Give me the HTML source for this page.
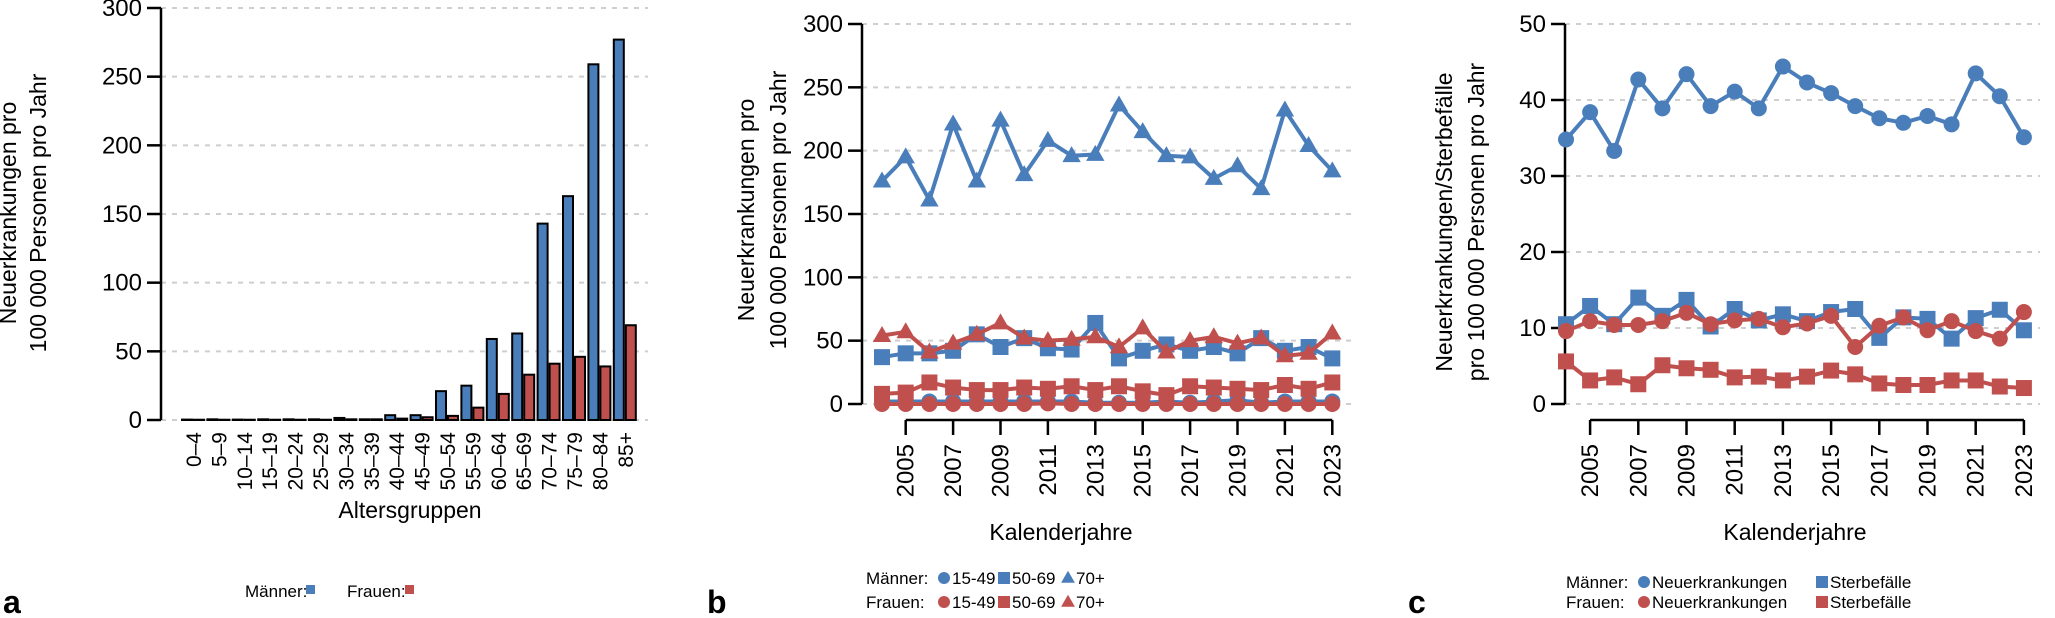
<!DOCTYPE html>
<html><head><meta charset="utf-8"><style>
body{margin:0;background:#fff}
svg{display:block;font-family:"Liberation Sans",sans-serif}
</style></head><body>
<svg id="s" width="2055" height="618" viewBox="0 0 2055 618"></svg>
<script>
const ageGroups=["0–4","5–9","10–14","15–19","20–24","25–29","30–34","35–39","40–44","45–49","50–54","55–59","60–64","65–69","70–74","75–79","80–84","85+"];
const menAge=[0.3,0.5,0.3,0.5,0.5,0.5,1.5,0.5,3.5,3.5,21,25,59,63,143,163,259,277];
const womenAge=[0.2,0.2,0.2,0.2,0.2,0.2,0.5,0.5,1,2,3,9,19,33,41,46,39,69];
const ticksA=[0,50,100,150,200,250,300];
const years=[2004,2005,2006,2007,2008,2009,2010,2011,2012,2013,2014,2015,2016,2017,2018,2019,2020,2021,2022,2023];
const yearTicks=[2005,2007,2009,2011,2013,2015,2017,2019,2021,2023];
const m70=[176,195,161,221,176,224,181,208,196,197,236,215,196,195,178,188,170,232,204,184];
const m5069=[37,40,40,42,55,45,52,44,43,64,36,42,47,42,45,40,52,42,45,36];
const m1549=[2,2,2,2,2,2,2,2,2,1,1,1,2,1,2,3,1,2,2,2];
const w70=[54,57,41,48,55,64,52,50,51,53,45,60,41,50,53,48,52,38,40,56];
const w5069=[8,9,17,13,11,11,13,12,14,11,14,10,7,14,13,12,11,15,12,17];
const w1549=[0,0,0,0,0,0,0,0.5,0,0,0,0,0,0,0,0,0,0,0,0];
const ticksB=[0,50,100,150,200,250,300];
const mNeu=[34.8,38.4,33.3,42.7,38.9,43.4,39.2,41.1,38.9,44.4,42.3,40.9,39.2,37.6,37.0,37.9,36.8,43.5,40.5,35.1];
const mSterb=[10.5,12.9,10.5,14.0,11.6,13.7,10.2,12.5,11.0,11.8,10.9,12.1,12.5,8.7,11.4,11.2,8.6,11.3,12.4,9.7];
const wNeu=[9.6,10.9,10.4,10.4,10.9,12.0,10.5,11.0,11.2,10.1,10.6,11.6,7.5,10.3,11.4,9.7,10.9,9.6,8.6,12.1];
const wSterb=[5.6,3.1,3.5,2.6,5.1,4.7,4.5,3.5,3.6,3.1,3.6,4.4,3.9,2.7,2.5,2.5,3.1,3.1,2.3,2.1];
const ticksC=[0,10,20,30,40,50];

const BLUE="#4a7ebb",RED="#c0504d";
const S=document.getElementById('s');
function el(tag,attrs,parent){const e=document.createElementNS("http://www.w3.org/2000/svg",tag);for(const k in attrs)e.setAttribute(k,attrs[k]);(parent||S).appendChild(e);return e;}
function txt(str,attrs,parent){const t=el('text',attrs,parent);t.textContent=str;return t;}

function yAxis(ax,yS,ticks,gridEnd,name){
  const g=el('g',{});
  
  
  ticks.forEach(v=>{
    const y=yS(v);
    el('line',{x1:ax,x2:gridEnd,y1:y,y2:y,stroke:"#cfcfcf","stroke-width":2,"stroke-dasharray":"5,6"},g);
    el('line',{x1:ax-14,x2:ax,y1:y,y2:y,stroke:"#000","stroke-width":2.5},g);
    const t=txt(String(v),{x:ax-19,y:y+8,"text-anchor":"end","font-size":24},g);
    
    
  });
  el('line',{x1:ax,x2:ax,y1:yS(ticks[0]),y2:yS(ticks[ticks.length-1]),stroke:"#000","stroke-width":2.5},g);
}
function yTitle(x1,x2,cy,l1,l2,name){
  const g=el('g',{});
  
  
  txt(l1,{x:0,y:0,transform:`translate(${x1},${cy}) rotate(-90)`,"text-anchor":"middle","font-size":23},g);
  txt(l2,{x:0,y:0,transform:`translate(${x2},${cy}) rotate(-90)`,"text-anchor":"middle","font-size":23},g);
}
function marker(g,type,x,y,c,r){
  let m;
  if(type==='c')m=el('circle',{cx:x,cy:y,r:r,fill:c},g);
  else if(type==='s')m=el('rect',{x:x-r,y:y-r,width:2*r,height:2*r,fill:c},g);
  else m=el('polygon',{points:`${x},${y-r*1.2} ${x-r*1.15},${y+r*0.8} ${x+r*1.15},${y+r*0.8}`,fill:c},g);
  return m;
}
function series(xS,yS,vals,type,c,name){
  const g=el('g',{});
  
  
  el('polyline',{points:vals.map((v,i)=>xS(years[i])+","+yS(v)).join(" "),fill:"none",stroke:c,"stroke-width":4,"stroke-linejoin":"round"},g);
  vals.forEach((v,i)=>{const m=marker(g,type,xS(years[i]),yS(v),c,8);
    
    });
}
function xYearAxis(xS,yLine,name){
  const g=el('g',{});
  
  
  el('line',{x1:xS(yearTicks[0]),x2:xS(yearTicks[yearTicks.length-1]),y1:yLine,y2:yLine,stroke:"#000","stroke-width":2.5},g);
  yearTicks.forEach(yr=>{
    const x=xS(yr);
    el('line',{x1:x,x2:x,y1:yLine,y2:yLine+15,stroke:"#000","stroke-width":2.5},g);
    const t=txt(String(yr),{transform:`translate(${x+8},${yLine+24}) rotate(-90)`,"text-anchor":"end","font-size":24},g);
    
    
  });
}

/* ---------- Panel a ---------- */
const yA=v=>420-v*(412/300);
const xA=i=>193+i*25.4;
yAxis(161,yA,ticksA,648,'y-axis-a');
yTitle(16,46,213,"Neuerkrankungen pro","100 000 Personen pro Jahr",'y-axis-title-a');
ageGroups.forEach((g,i)=>{
  const bm=el('rect',{x:xA(i)-11,y:yA(menAge[i]),width:10,height:yA(0)-yA(menAge[i]),fill:BLUE,stroke:"#000","stroke-width":2});
  
  
  const bw=el('rect',{x:xA(i)+1,y:yA(womenAge[i]),width:10,height:yA(0)-yA(womenAge[i]),fill:RED,stroke:"#000","stroke-width":2});
  
  
  const t=txt(g,{transform:`translate(${xA(i)+8},432) rotate(-90)`,"text-anchor":"end","font-size":21});
  
  
});
const ta=txt("Altersgruppen",{x:410,y:518,"text-anchor":"middle","font-size":23});



/* ---------- Panel b ---------- */
const yB=v=>404-v*(380/300);
const xB=yr=>882+(yr-2004)*23.7;
yAxis(862,yB,ticksB,1352,'y-axis-b');
yTitle(754,786,210,"Neuerkrankungen pro","100 000 Personen pro Jahr",'y-axis-title-b');
series(xB,yB,m70,'t',BLUE,'men-70plus-line');
series(xB,yB,m5069,'s',BLUE,'men-50-69-line');
series(xB,yB,m1549,'c',BLUE,'men-15-49-line');
series(xB,yB,w70,'t',RED,'women-70plus-line');
series(xB,yB,w5069,'s',RED,'women-50-69-line');
series(xB,yB,w1549,'c',RED,'women-15-49-line');
xYearAxis(xB,420,'x-axis-b');

/* ---------- Panel c ---------- */
const yC=v=>404-v*7.6;
const xC=yr=>1566+(yr-2004)*24.1;
yAxis(1565,yC,ticksC,2040,'y-axis-c');
yTitle(1452,1484,222,"Neuerkrankungen/Sterbefälle","pro 100 000 Personen pro Jahr",'y-axis-title-c');
series(xC,yC,mNeu,'c',BLUE,'men-neuerkrankungen-line');
series(xC,yC,mSterb,'s',BLUE,'men-sterbefaelle-line');
series(xC,yC,wSterb,'s',RED,'women-sterbefaelle-line');
series(xC,yC,wNeu,'c',RED,'women-neuerkrankungen-line');
xYearAxis(xC,420,'x-axis-c');

/* ---------- Legends ---------- */
function legItem(g,type,c,x,y,label){
  marker(g,type,x,y-6,c,6);
  txt(label,{x:x+8,y:y,"font-size":17},g);
}
const lb=el('g',{});


txt("Männer:",{x:866,y:584,"font-size":17},lb);
txt("Frauen:",{x:866,y:608,"font-size":17},lb);
legItem(lb,'c',BLUE,944,584,"15-49");legItem(lb,'s',BLUE,1004,584,"50-69");legItem(lb,'t',BLUE,1068,584,"70+");
legItem(lb,'c',RED,944,608,"15-49");legItem(lb,'s',RED,1004,608,"50-69");legItem(lb,'t',RED,1068,608,"70+");
const lc=el('g',{});


txt("Männer:",{x:1566,y:588,"font-size":17},lc);
txt("Frauen:",{x:1566,y:608,"font-size":17},lc);
legItem(lc,'c',BLUE,1644,588,"Neuerkrankungen");legItem(lc,'s',BLUE,1822,588,"Sterbefälle");
legItem(lc,'c',RED,1644,608,"Neuerkrankungen");legItem(lc,'s',RED,1822,608,"Sterbefälle");

const la=el('g',{});


txt("Männer:",{x:245,y:597,"font-size":17},la);
el('rect',{x:306,y:585,width:9,height:9,fill:BLUE},la);
txt("Frauen:",{x:347,y:597,"font-size":17},la);
el('rect',{x:405,y:585,width:9,height:9,fill:RED},la);
const pa=txt("a",{x:3,y:613,"font-size":32,"font-weight":"bold"});


const pb=txt("b",{x:707,y:613,"font-size":32,"font-weight":"bold"});


const pc=txt("c",{x:1408,y:613,"font-size":32,"font-weight":"bold"});


const tb=txt("Kalenderjahre",{x:1061,y:540,"text-anchor":"middle","font-size":23});


const tc=txt("Kalenderjahre",{x:1795,y:540,"text-anchor":"middle","font-size":23});


</script>
</body></html>
